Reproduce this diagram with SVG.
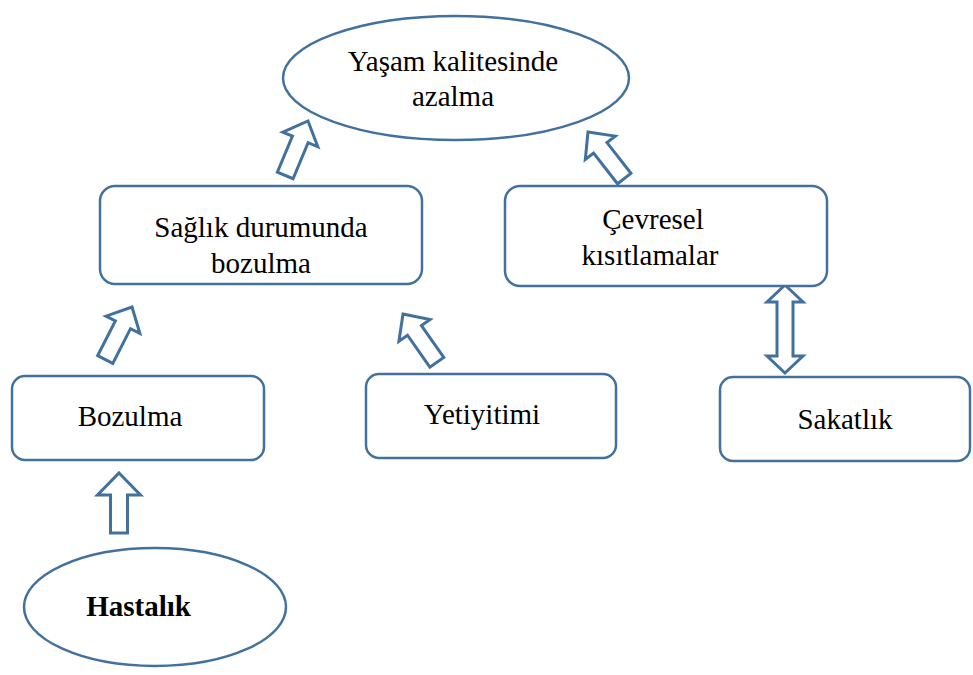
<svg xmlns="http://www.w3.org/2000/svg" width="973" height="675" viewBox="0 0 973 675">
<style>
.n{fill:#fff;stroke:#41719C;stroke-width:2.5}
.a{fill:#fff;stroke:#41719C;stroke-width:3;stroke-linejoin:miter}
.t{font-family:"Liberation Serif","Times New Roman",serif;font-size:29px;fill:#000}
.b{font-weight:bold}
</style>
<defs>
<polygon id="up" points="0,0 19,20 8.5,20 8.5,59 -8.5,59 -8.5,20 -19,20"/>
</defs>
<rect width="973" height="675" fill="#fff"/>
<g id="connectors">
<use href="#up" class="a" transform="translate(308,121) rotate(22.7)"/>
<use href="#up" class="a" transform="translate(588,132) rotate(-37.9)"/>
<use href="#up" class="a" transform="translate(132,307) rotate(27)"/>
<use href="#up" class="a" transform="translate(403,314) rotate(-35)"/>
<polygon class="a" points="785,285 803,302 793,302 793,356 803,356 785,373 767,356 777,356 777,302 767,302"/>
<polygon class="a" points="119,473 140.5,495 127.5,495 127.5,533 110.5,533 110.5,495 97.5,495"/>
</g>
<g id="yasam">
<ellipse class="n" cx="456" cy="78" rx="173" ry="62"/>
<text class="t" x="453" y="71" text-anchor="middle">Yaşam kalitesinde</text>
<text class="t" x="453" y="106" text-anchor="middle">azalma</text>
</g>
<g id="saglik">
<rect class="n" x="100" y="186" width="322" height="98" rx="15"/>
<text class="t" x="261" y="237" text-anchor="middle">Sağlık durumunda</text>
<text class="t" x="261" y="273" text-anchor="middle">bozulma</text>
</g>
<g id="cevresel">
<rect class="n" x="505" y="186" width="322" height="100" rx="15"/>
<text class="t" x="653" y="229" text-anchor="middle">Çevresel</text>
<text class="t" x="650" y="265" text-anchor="middle">kısıtlamalar</text>
</g>
<g id="bozulma">
<rect class="n" x="12" y="376" width="252" height="84" rx="13"/>
<text class="t" x="130" y="426" text-anchor="middle">Bozulma</text>
</g>
<g id="yetiyitimi">
<rect class="n" x="366" y="374" width="250" height="84" rx="13"/>
<text class="t" x="482" y="424" text-anchor="middle">Yetiyitimi</text>
</g>
<g id="sakatlik">
<rect class="n" x="720" y="377" width="250" height="84" rx="13"/>
<text class="t" x="845" y="429" text-anchor="middle">Sakatlık</text>
</g>
<g id="hastalik">
<ellipse class="n" cx="155" cy="607" rx="131" ry="59"/>
<text class="t b" x="138.5" y="616" text-anchor="middle">Hastalık</text>
</g>
</svg>
